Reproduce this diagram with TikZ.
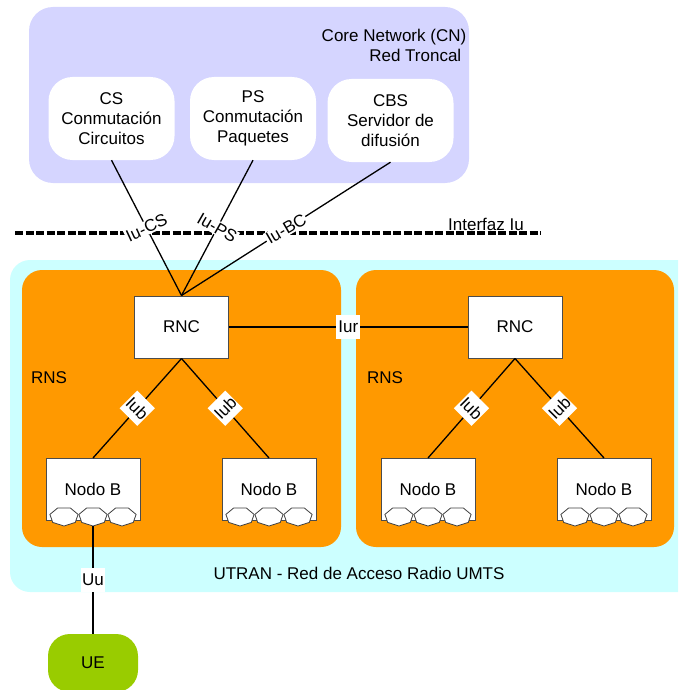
\documentclass[tikz,border=0pt]{standalone}
\usepackage{fontspec}
\setmainfont{Liberation Sans}
\usetikzlibrary{shapes.geometric}
\definecolor{corecolor}{HTML}{D5D5FF}
\definecolor{utrancolor}{HTML}{CCFFFF}
\definecolor{rnscolor}{HTML}{FF9900}
\definecolor{uecolor}{HTML}{99CC00}
\tikzset{
  every node/.style={font=\fontsize{17}{20}\selectfont,inner sep=0pt},
  area/.style={rounded corners=#1,draw=none},
  server/.style={fill=white,rounded corners=24pt,minimum width=126pt,minimum height=83pt,align=center},
  station/.style={draw=black!70,fill=white,line width=1pt,minimum width=94pt,minimum height=62pt},
  antena/.style={draw=black!75,fill=white,line width=.8pt,regular polygon,regular polygon sides=7,
    shape border rotate=180,minimum size=19pt,xscale=1.52,transform shape},
  link/.style={line width=1.3pt,black},
  iface/.style={fill=white,inner sep=1pt},
  iubface/.style={fill=white,minimum size=25pt},
}
\begin{document}
\begin{tikzpicture}[x=1pt,y=-1pt]
  \path[use as bounding box,clip] (0,0) rectangle (678,690);
  % areas
  \fill[corecolor,area=24pt] (29,7) rectangle (469,183);
  \fill[utrancolor,area=20pt] (10,260) rectangle (700,592);
  \fill[rnscolor,area=20pt] (22,270) rectangle (341,547);
  \fill[rnscolor,area=20pt] (356,270) rectangle (674,547);

  \node[align=right] (core) at (394,45) {Core Network (CN)\\Red Troncal\hspace*{5pt}};
  \node[server] (CS) at (111.5,118.5) {CS\\Conmutación\\Circuitos};
  \node[server] (PS) at (253,118.5) {PS\\Conmutación\\Paquetes};
  \node[server] (CBS) at (390.5,120.5) {CBS\\Servidor de\\difusión};

  \coordinate (iuA) at (15,233);
  \coordinate (iuB) at (541,233);
  \draw[line width=3.4pt,dash pattern=on 8pt off 2.5pt] (iuA) -- (iuB);
  \node (iu) at (486,224) {Interfaz Iu};

  \node[station] (rncA) at (181.5,327) {RNC};
  \node[station] (rncB) at (515,327) {RNC};
  \node (rnsA) at (49,378) {RNS};
  \node (rnsB) at (385,378) {RNS};

  \node[station] (nodoA) at (93,489.5) {Nodo B};
  \node[station] (nodoB) at (269,489.5) {Nodo B};
  \node[station] (nodoC) at (428,489.5) {Nodo B};
  \node[station] (nodoD) at (604,489.5) {Nodo B};

  \node[antena] (a1) at (64,516.5) {};
  \node[antena] (a2) at (93,516.5) {};
  \node[antena] (a3) at (122,516.5) {};
  \node[antena] (b1) at (240,516.5) {};
  \node[antena] (b2) at (269,516.5) {};
  \node[antena] (b3) at (298,516.5) {};
  \node[antena] (c1) at (399,516.5) {};
  \node[antena] (c2) at (428,516.5) {};
  \node[antena] (c3) at (457,516.5) {};
  \node[antena] (d1) at (575,516.5) {};
  \node[antena] (d2) at (604,516.5) {};
  \node[antena] (d3) at (633,516.5) {};

  \node (utran) at (359,573) {UTRAN - Red de Acceso Radio UMTS};
  \node[fill=uecolor,rounded corners=22pt,minimum width=90pt,minimum height=58pt] (UE) at (93,663) {UE};

  \draw[link] (CS.south) -- node[iface,rotate=25]{Iu-CS} (rncA.north);
  \draw[link] (PS.south) -- node[iface,rotate=-30]{Iu-PS} (rncA.north);
  \draw[link] (CBS.south) -- node[iface,rotate=30]{Iu-BC} (rncA.north);
  \draw[link] (rncA.east) -- node[iface,minimum size=24pt]{Iur} (rncB.west);
  \draw[link] (rncA.south) -- node[iubface,rotate=-45]{Iub} (nodoA.north);
  \draw[link] (rncA.south) -- node[iubface,rotate=45]{Iub} (nodoB.north);
  \draw[link] (rncB.south) -- node[iubface,rotate=-45]{Iub} (nodoC.north);
  \draw[link] (rncB.south) -- node[iubface,rotate=45]{Iub} (nodoD.north);
  \draw[link] (a2.south) -- node[iface,minimum size=24pt]{Uu} (UE.north);
\end{tikzpicture}
\end{document}
